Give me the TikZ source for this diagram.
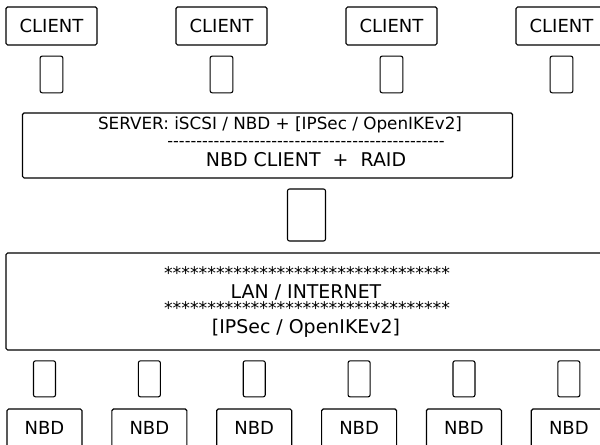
\documentclass[tikz,border=0pt]{standalone}
\usepackage{fontspec}
\setmainfont{DejaVu Sans}
\usetikzlibrary{positioning}
\newcommand{\dashrow}[1]{\foreach \i in {1,...,#1}{-\kern0pt}}
\newcommand{\starrow}[1]{\foreach \i in {1,...,#1}{*\kern0pt}}
\tikzset{
  hostbox/.style={draw,line width=0.9pt,rounded corners=1.2pt,inner sep=0pt,
    minimum width=68.25pt,minimum height=28.5pt,font=\fontsize{13.5}{16}\selectfont},
  diskbox/.style={hostbox,minimum width=56.25pt},
  plug/.style={draw,line width=0.8pt,rounded corners=1.5pt,inner sep=0pt,
    minimum width=17pt,minimum height=27.5pt},
  layer/.style={draw,line width=0.9pt,rounded corners=1.2pt,inner sep=0pt},
  caption/.style={inner sep=0pt,font=\fontsize{14.2}{16}\selectfont},
  ruler/.style={inner sep=0pt,font=\fontsize{13}{14}\selectfont}
}

\begin{document}
\begin{tikzpicture}[x=0.75pt,y=-0.75pt]
      \clip (0,0) rectangle (600,445);
      % clients on top
      \node[hostbox] (client1) at (51.5,26) {CLIENT};
      \node[hostbox,right=58.35pt of client1] (client2) {CLIENT};
      \node[hostbox,right=58.35pt of client2] (client3) {CLIENT};
      \node[hostbox,right=58.35pt of client3] (client4) {CLIENT};
      \node[plug,below=7.5pt of client1] (plug1) {};
      \node[plug,below=7.5pt of client2] (plug2) {};
      \node[plug,below=7.5pt of client3] (plug3) {};
      \node[plug,below=7.5pt of client4] (plug4) {};
      % server
      \node[layer,minimum width=367.5pt,minimum height=48.75pt] (server) at (267.5,145.5) {};
      \node[caption,font=\fontsize{12.6}{14}\selectfont] (srvname) at (280,125)
        {SERVER: iSCSI / NBD + [IPSec / OpenIKEv2]};
      \node[ruler,font=\fontsize{12}{12}\selectfont] (srvrule) at (306,144) {\dashrow{48}};
      \node[caption] (srvraid) at (306,160) {NBD CLIENT\ \ +\ \ RAID};
      \node[plug,minimum width=28.5pt,minimum height=39pt] (uplink) at (306.5,215) {};
      % network
      \node[layer,minimum width=450pt,minimum height=72.75pt] (lan) at (306,301.5) {};
      \node[ruler] (lanstars1) at (307,273) {\starrow{33}};
      \node[caption] (lanname) at (306,292) {LAN / INTERNET};
      \node[ruler] (lanstars2) at (307,308.5) {\starrow{33}};
      \node[caption] (lansec) at (306,328) {[IPSec / OpenIKEv2]};
      % storage nodes
      \node[diskbox] (nbd1) at (44.5,428) {NBD};
      \node[diskbox,right=21.5pt of nbd1] (nbd2) {NBD};
      \node[diskbox,right=21.5pt of nbd2] (nbd3) {NBD};
      \node[diskbox,right=21.5pt of nbd3] (nbd4) {NBD};
      \node[diskbox,right=21.5pt of nbd4] (nbd5) {NBD};
      \node[diskbox,right=21.5pt of nbd5] (nbd6) {NBD};
      \node[plug,minimum width=16.5pt,minimum height=27pt,above=8.25pt of nbd1] (disk1) {};
      \node[plug,minimum width=16.5pt,minimum height=27pt,above=8.25pt of nbd2] (disk2) {};
      \node[plug,minimum width=16.5pt,minimum height=27pt,above=8.25pt of nbd3] (disk3) {};
      \node[plug,minimum width=16.5pt,minimum height=27pt,above=8.25pt of nbd4] (disk4) {};
      \node[plug,minimum width=16.5pt,minimum height=27pt,above=8.25pt of nbd5] (disk5) {};
      \node[plug,minimum width=16.5pt,minimum height=27pt,above=8.25pt of nbd6] (disk6) {};
    \end{tikzpicture}
\end{document}
